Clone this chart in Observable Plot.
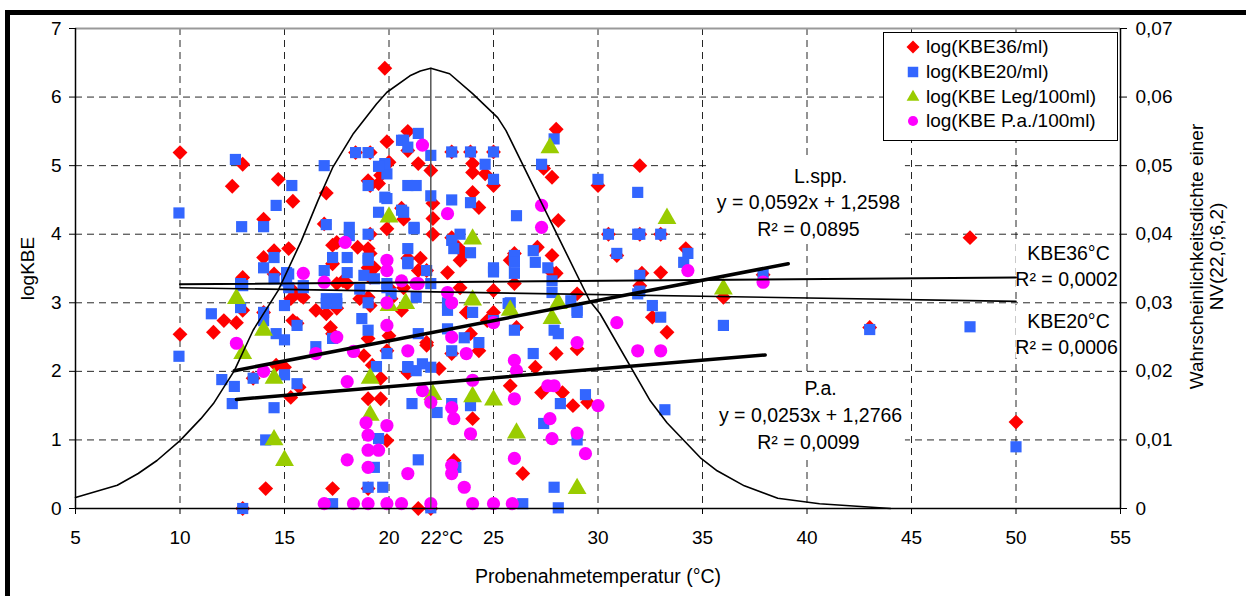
<!DOCTYPE html>
<html><head><meta charset="utf-8">
<script src="https://cdn.jsdelivr.net/npm/d3@7"></script>
<script src="https://cdn.jsdelivr.net/npm/@observablehq/plot@0.6"></script>
<style>
html,body{margin:0;padding:0;background:#fff;}
#wrap{position:relative;width:1246px;height:596px;overflow:hidden;font-family:"Liberation Sans",Arial,sans-serif;}
#topBorder{position:absolute;left:5px;top:10px;width:1241px;height:5px;background:#000;}
#leftBorder{position:absolute;left:5px;top:10px;width:5px;height:586px;background:#000;}
#legend{position:absolute;left:883px;top:32px;width:233px;height:107px;border:1px solid #000;background:#fff;}
.lrow{position:absolute;left:0;height:24px;width:233px;font-size:19px;line-height:24px;color:#000;}
.lrow svg{position:absolute;left:21px;top:4px;}
.lrow span{position:absolute;left:42px;top:0;white-space:nowrap;}
</style></head>
<body>
<div id="wrap"><div id="chart"></div><div id="topBorder"></div><div id="leftBorder"></div><div id="legend"></div></div>
<script>
// ---- tick labels ----
const xTicks = [5,10,15,20,25,30,35,40,45,50,55];
const yTicks = [0,1,2,3,4,5,6,7];
const rightTickLabels = ["0","0,01","0,02","0,03","0,04","0,05","0,06","0,07"];
const gridX = [10,15,20,25,30,35,40,45,50];
const gridY = [1,2,3,4,5,6];
const refTemp = [22];

// ---- series: [temperature °C, logKBE] ----
const kbe36 = [
[10,5.19],[10,2.54],[12.5,4.7],[13.0,5.02],[14.7,4.8],[15.4,4.48],[14.0,4.22],[17.0,4.6],[16.9,4.15],[19.8,6.42],
[11.6,2.57],[12.1,2.74],[12.7,2.71],[13.0,2.89],[14.0,2.86],[15.3,3.06],[15.8,3.1],[15.6,2.7],[16.5,2.89],[17.0,2.84],[17.5,2.92],[17.3,2.55],
[14.6,2.09],[15.0,2.06],[13.5,1.9],[15.7,1.77],[15.3,1.62],[18.8,2.23],[19.2,2.09],[19.6,1.9],[19.0,1.6],[19.6,1.6],[19.9,0.99],[20.0,2.52],[19.9,2.3],[20.9,1.98],[14.1,0.29],[17.3,0.29],[19.0,0.29],[13.0,0],[21.4,0],[22.0,0],
[17.3,3.84],[14.5,3.76],[15.2,3.79],[14.0,3.66],[19.0,3.79],[19.0,3.51],[13.0,3.37],[14.5,3.42],[17.8,3.32],[17.5,3.28],[18.0,3.28],[18.6,3.06],[19.1,2.96],
[19.0,4.78],[19.5,4.74],[19.9,5.35],[20.0,5.05],[20.6,4.38],[20.7,4.22],[20.9,5.5],[20.9,5.22],[21.4,5.03],[22.0,4.93],
[28.0,5.53],[23.0,5.2],[23.9,5.2],[25.0,5.2],[24.0,5.03],[24.0,4.9],[24.6,4.88],[25.0,4.71],[27.4,4.96],[27.8,4.83],[30.0,4.71],[32.0,5.0],[24.0,4.61],[24.3,4.39],[22.1,4.45],[22.1,4.23],[22.1,4.0],[28.1,4.2],[27.8,3.69],[23.0,3.95],[23.3,3.81],[23.6,3.72],[21.5,3.65],[21.8,3.47],[22.8,3.44],[23.4,3.62],[26.0,3.72],[25.8,3.62],[27.1,3.81],[27.8,3.44],[28.0,3.43],[25.0,3.18],[26.0,3.28],[29.0,3.13],[23.4,3.22],
[30.5,4.0],[32.0,4.0],[33.0,4.0],[30.9,3.69],[34.2,3.79],[33.0,3.44],[32.1,3.43],[32.0,3.25],[36.0,3.08],[37.9,3.41],[43.0,2.64],[50.0,1.26],[47.8,3.95],[32.6,2.79],[33.3,2.57],
[29.0,2.33],[28.0,2.26],[27.0,2.06],[25.8,1.79],[27.3,1.69],[28.3,1.69],[28.8,1.5],[29.5,1.55],[24.0,1.31],[23.1,0.7],[26.4,0.51],[25.0,2.86],[26.1,2.64],[24.3,2.3],[23.0,2.26],[22.4,2.04],[21.8,2.38],
[19.1,4.0],[17.5,3.88],[19.3,3.51],[19.1,3.37],[17.3,3.57],[15.4,3.18],[15.9,3.08],[19.0,3.08],[20.1,3.06],[20.6,2.89],[23.7,2.86],[24.7,2.74],[17.2,2.64],[19.0,2.48],[21.8,2.42],[23.9,2.55],[15.4,2.74],[18.5,3.81],[18.4,5.19],[19.1,5.19],[19.1,4.71],[19.9,4.08],[20.0,3.22],[20.7,3.22],[21.4,3.47],[20.9,3.65],[19.1,3.72],[19.6,4.86]
];
const kbe20 = [
[9.95,4.31],[12.65,5.09],[12.95,4.11],[14.0,4.11],[14.6,4.42],[15.35,4.71],[16.9,5.0],[17.0,4.14],[18.4,5.19],[19.0,5.19],[19.0,4.71],[19.8,5.0],[19.9,4.88],[19.9,4.52],[19.5,4.32],[20.7,4.32],[20.7,5.37],[21.2,4.08],[18.1,4.1],[18.1,3.98],[19.0,4.0],[17.3,3.66],[18.0,3.66],[19.0,3.62],[20.9,3.59],[14.5,3.66],[14.0,3.51],[14.5,3.35],[15.2,3.42],[15.9,3.25],[16.9,3.47],[18.0,3.44],[18.8,3.4],[19.3,3.35],[13.0,3.25],[17.0,3.06],[17.5,3.06],
[11.5,2.84],[12.9,2.93],[14.0,2.86],[14.0,2.74],[14.6,2.55],[15.0,2.46],[15.0,2.96],[15.6,2.67],[16.5,2.36],[17.3,2.48],[17.0,2.99],[17.5,2.99],[18.7,2.77],[19.0,2.6],[19.9,2.26],[19.4,2.07],[20.9,2.07],[9.95,2.22],[12.0,1.88],[12.6,1.78],[12.5,1.53],[13.5,1.9],[15.0,1.95],[15.6,1.82],[14.5,1.47],[14.1,1.0],[19.5,1.02],[19.3,0.6],[19.0,0.31],[19.7,0.31],[21.1,1.53],[21.4,0.71],[13.0,0],[17.3,0.07],
[21.4,5.47],[20.6,5.37],[20.9,5.27],[22.0,5.15],[23.0,5.2],[23.9,5.2],[25.0,5.2],[27.9,5.39],[27.3,5.02],[24.6,5.02],[25.0,4.8],[30.0,4.8],[19.8,5.03],[20.9,4.71],[21.3,4.71],[19.8,4.54],[22.0,4.56],[23.0,4.5],[23.9,4.46],[26.1,4.27],[20.6,4.35],[21.2,4.1],[23.4,4.0],[23.0,3.91],[23.1,3.79],[23.9,3.73],[20.9,3.79],[20.9,3.57],[21.8,3.47],[25.0,3.51],[25.0,3.45],[26.0,3.69],[26.0,3.59],[26.9,3.76],[27.0,3.59],[27.6,3.51],[26.0,3.43],[27.8,3.32],[30.5,4.0],[30.9,3.72],[31.9,4.0],[31.9,4.61],[22.0,3.28],[21.3,3.08],[19.9,3.28],[22.8,3.0],[22.8,2.89],[24.0,2.86],[25.8,3.0],[27.8,3.15],[28.7,3.03],[29.0,2.89],[20.1,3.13],
[32.0,4.0],[33.0,4.0],[34.3,3.72],[34.1,3.59],[32.0,3.4],[32.0,3.17],[37.9,3.42],
[36.0,2.67],[32.6,2.96],[33.0,2.79],[33.2,1.44],[29.4,1.66],[28.2,1.53],[27.4,1.24],[29.0,1.0],[27.9,0.31],[28.1,0.01],[26.4,0.07],[26.9,2.26],[27.9,2.6],[28.1,2.55],[26.0,2.6],[24.3,2.42],[23.6,2.49],[23.0,2.3],[22.8,2.62],[21.4,2.55],[20.9,2.06],[21.3,2.01],[21.6,2.11],[22.0,2.06],[22.3,1.4],[23.0,1.53],[23.9,1.5],[23.2,0.6],[22.0,0.01],[25.0,2.74],[25.7,2.99],[29.0,2.86],[31.9,3.13],
[43.0,2.61],[47.8,2.65],[50.0,0.9],
[19.0,3.65],[15.1,3.44],[15.1,3.32],[15.2,3.22],[15.9,3.22],[12.9,3.28],[19.0,3.0],[18.6,3.2],[19.9,3.22],[19.5,4.99]
];
const kbeLeg = [
[12.7,3.06],[13.0,2.26],[14.0,2.6],[14.5,1.9],[14.5,1.0],[15.0,0.7],[19.1,1.9],[19.1,1.36],[20.0,2.96],[20.8,2.99],[20.0,4.25],[22.1,1.66],[24.0,3.93],[24.0,3.04],[24.0,1.63],[25.0,1.58],[25.8,2.89],[26.1,1.1],[27.7,5.26],[27.8,2.77],[28.1,2.99],[29.0,0.29],[33.3,4.23],[36.0,3.2]
];
const kbePa = [
[12.7,2.41],[14.0,2.0],[17.5,2.5],[16.5,2.26],[18.3,2.29],[18.0,1.85],[19.9,3.0],[19.9,2.67],[20.9,2.3],[21.6,1.72],[18.9,1.25],[19.0,1.07],[19.0,0.85],[19.5,0.85],[19.0,0.6],[19.9,1.21],[18.0,0.71],[20.9,0.51],[16.9,0.07],[18.3,0.07],[19.0,0.07],[19.9,0.07],[20.6,0.07],
[17.9,3.88],[15.9,3.43],[16.9,3.3],[19.9,3.62],[19.9,3.47],[20.6,3.32],[21.4,3.28],[21.6,5.3],
[22.8,4.3],[27.3,4.42],[27.3,4.1],[21.3,3.28],[22.8,3.15],[23.0,3.0],
[23.0,2.5],[23.7,2.26],[25.0,2.71],[26.0,2.16],[26.1,2.01],[24.0,1.87],[30.9,2.71],[31.9,2.3],[33.0,2.3],[29.0,2.42],[27.6,1.79],[27.9,1.79],[30.0,1.5],[22.0,1.55],[23.0,1.47],[23.1,1.31],[23.9,1.09],[26.0,1.6],[27.7,1.31],[27.8,1.02],[29.0,1.1],[29.4,0.8],[26.0,0.73],[23.0,0.63],[23.0,0.51],[23.6,0.31],[22.0,0.07],[24.0,0.07],[25.0,0.07],[25.9,0.07],
[34.3,3.47],[37.9,3.3]
];

// ---- normal density curve NV(22,0;6,2) ----
const nvTemp = [5,7,8,8.9,10,11,11.6,12.6,13.5,14.7,15.8,16.6,17.3,18.3,19.4,19.9,21,21.5,22,22.9,24,25.2,25.6,29.6,30.1,32.5,33.3,34.9,35.7,37,38.6,40.6,44];
const nvDensity = [0.0016,0.0034,0.0051,0.0070,0.0099,0.0131,0.0153,0.0201,0.0260,0.0318,0.0390,0.0449,0.0497,0.0547,0.0590,0.0607,0.0631,0.0638,0.0642,0.0634,0.0605,0.0570,0.0551,0.0303,0.0284,0.0157,0.0125,0.0074,0.0055,0.0033,0.0015,0.0007,0];
const nvPeak = [0.0642];

// ---- trend lines (end points) ----
const trendKbe36 = [[10,3.27],[50,3.37]];
const trendKbe20 = [[10,3.22],[50,3.02]];
const trendLspp = [[12.6,2.01],[39.1,3.57]];
const trendPa = [[12.7,1.59],[38.0,2.24]];

// ---- texts ----
const lsppText = ["L.spp.","y = 0,0592x + 1,2598","R² = 0,0895"];
const paText = ["P.a.","y = 0,0253x + 1,2766","R² = 0,0099"];
const kbe36Text = ["KBE36°C","R² = 0,0002"];
const kbe20Text = ["KBE20°C","R² = 0,0006"];
const legendLabels = ["log(KBE36/ml)","log(KBE20/ml)","log(KBE Leg/100ml)","log(KBE P.a./100ml)"];
const seriesColors = ["#ff0000","#3366ff","#99cc00","#ff00ff"];
const xTitle = "Probenahmetemperatur (°C)";
const yTitle = "logKBE";
const y2Title = ["Wahrscheinlichkeitsdichte einer","NV(22,0;6,2)"];

const X = d => d[0], Y = d => d[1];
const txt = (arr, i, x, y, extra = {}) =>
  Plot.text([arr[i]], {x, y, text: d => d, textAnchor: "middle", lineAnchor: "middle", fill: "#000", fontSize: 19.5, ...extra});
const box = (x1, x2, y1, y2) => Plot.rect([0], {x1, x2, y1, y2, fill: "#fff"});

const chart = Plot.plot({
  width: 1246, height: 596,
  marginLeft: 75, marginRight: 126, marginTop: 28, marginBottom: 88,
  x: {domain: [5, 55]},
  y: {domain: [0, 7]},
  style: {fontFamily: "'Liberation Sans', Arial, sans-serif", fontSize: "19px", background: "transparent", color: "#000"},
  marks: [
    Plot.gridX(gridX, {stroke: "#000", strokeOpacity: 0.85, strokeDasharray: "7,5", strokeWidth: 1}),
    Plot.gridY(gridY, {stroke: "#000", strokeOpacity: 0.85, strokeDasharray: "7,5", strokeWidth: 1}),
    Plot.ruleY([7], {stroke: "#999", strokeWidth: 2}),
    // white label boxes (cover the grid, as in the original)
    box(35.43, 44.71, 3.86, 5.10),
    box(35.43, 44.71, 0.77, 1.98),
    box(50.0, 55.0, 3.18, 3.91),
    box(50.0, 55.0, 2.19, 2.96),
    Plot.dot(kbe36, {x: X, y: Y, symbol: "diamond2", r: 6.7, fill: seriesColors[0]}),
    Plot.dot(kbe20, {x: X, y: Y, symbol: "square", r: 6.3, fill: seriesColors[1]}),
    Plot.dot(kbeLeg, {x: X, y: Y, symbol: "triangle", r: 7, fill: seriesColors[2]}),
    Plot.dot(kbePa, {x: X, y: Y, symbol: "circle", r: 6.6, fill: seriesColors[3]}),
    Plot.ruleX(refTemp, {y1: 0, y2: nvPeak[0] * 100, stroke: "#555", strokeWidth: 1.5}),
    Plot.line(nvTemp.map((t, i) => [t, nvDensity[i] * 100]), {x: X, y: Y, stroke: "#000", strokeWidth: 1.6}),
    Plot.line(trendKbe36, {x: X, y: Y, stroke: "#000", strokeWidth: 2}),
    Plot.line(trendKbe20, {x: X, y: Y, stroke: "#000", strokeWidth: 1.6}),
    Plot.line(trendLspp, {x: X, y: Y, stroke: "#000", strokeWidth: 3.5}),
    Plot.line(trendPa, {x: X, y: Y, stroke: "#000", strokeWidth: 3.5}),
    Plot.ruleX([5], {stroke: "#000", strokeWidth: 1.5}),
    Plot.ruleX([55], {stroke: "#000", strokeWidth: 1.5}),
    Plot.ruleY([0], {stroke: "#000", strokeWidth: 1.5}),
    Plot.axisX(xTicks, {anchor: "bottom", tickSize: 6, tickPadding: 16, tickFormat: d => String(d), label: null}),
    Plot.axisX(refTemp, {anchor: "bottom", tickSize: 0, tickPadding: 22, dx: 11, tickFormat: d => d + "°C", label: null}),
    Plot.axisY(yTicks, {anchor: "left", tickSize: 6, tickPadding: 8, tickFormat: d => String(d), label: null}),
    Plot.axisY(yTicks, {anchor: "right", tickSize: 6, tickPadding: 9, tickFormat: d => rightTickLabels[yTicks.indexOf(d)], label: null}),
    txt(lsppText, 0, 40.65, 4.84),
    txt(lsppText, 1, 40.07, 4.46),
    txt(lsppText, 2, 40.07, 4.07),
    txt(paText, 0, 40.65, 1.75),
    txt(paText, 1, 40.17, 1.356),
    txt(paText, 2, 40.07, 0.962),
    txt(kbe36Text, 0, 52.51, 3.72),
    txt(kbe36Text, 1, 52.42, 3.34),
    txt(kbe20Text, 0, 52.51, 2.72),
    txt(kbe20Text, 1, 52.42, 2.35),
    Plot.text([xTitle], {frameAnchor: "bottom", dy: 68, textAnchor: "middle", lineAnchor: "middle", fill: "#000", fontSize: 19.5}),
    Plot.text([yTitle], {frameAnchor: "left", dx: -48, rotate: -90, textAnchor: "middle", lineAnchor: "middle", fill: "#000"}),
    Plot.text([y2Title[0]], {frameAnchor: "right", dx: 76, dy: -12, rotate: -90, textAnchor: "middle", lineAnchor: "middle", fill: "#000"}),
    Plot.text([y2Title[1]], {frameAnchor: "right", dx: 96, dy: -12, rotate: -90, textAnchor: "middle", lineAnchor: "middle", fill: "#000"})
  ]
});
document.getElementById("chart").appendChild(chart);

// ---- legend ----
const legendSymbols = [[d3.symbolDiamond2, 108], [d3.symbolSquare, 110], [d3.symbolTriangle, 70], [d3.symbolCircle, 80]];
const legendRowCenters = [14, 39, 64, 88];
const legend = document.getElementById("legend");
legendLabels.forEach((lab, i) => {
  const row = document.createElement("div");
  row.className = "lrow";
  row.style.top = (legendRowCenters[i] - 12) + "px";
  const path = d3.symbol(legendSymbols[i][0], legendSymbols[i][1])();
  row.innerHTML = `<svg width="16" height="16" viewBox="-8 -8 16 16"><path d="${path}" fill="${seriesColors[i]}"/></svg><span>${lab}</span>`;
  legend.appendChild(row);
});
</script>
</body></html>
